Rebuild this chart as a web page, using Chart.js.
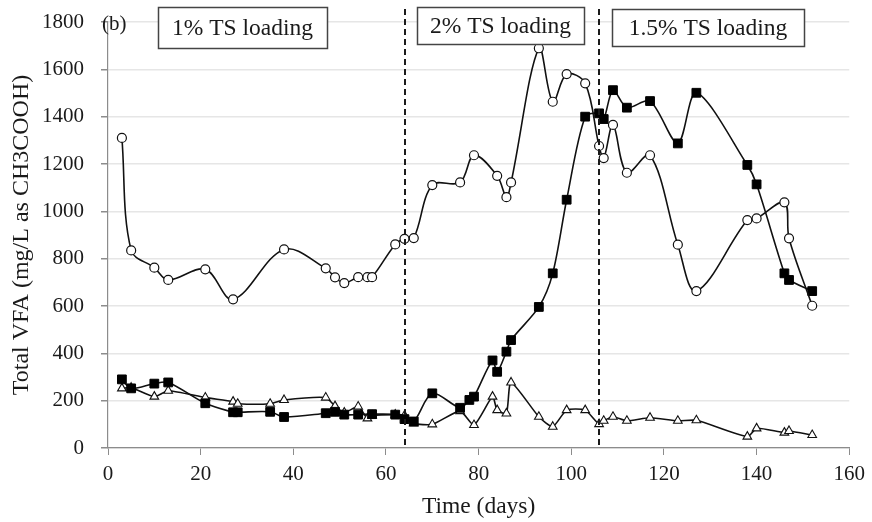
<!DOCTYPE html>
<html>
<head>
<meta charset="utf-8">
<script src="https://cdn.jsdelivr.net/npm/chart.js@4"></script>
<style>
  html, body { margin: 0; padding: 0; background: #fff; }
  #wrap { width: 872px; height: 522px; }
</style>
</head>
<body>
<div id="wrap"><canvas id="vfa"></canvas></div>
<script>
// data
const circleDays = [3,5,10,13,21,27,38,47,49,51,54,56,57,62,64,66,70,76,79,84,86,87,93,96,99,103,106,107,109,112,117,123,127,138,140,146,147,152];
const circleVfa = [1310,835,762,710,755,628,839,759,721,697,722,722,722,860,884,887,1111,1122,1237,1150,1060,1122,1689,1463,1580,1541,1276,1225,1365,1163,1237,859,663,963,970,1038,886,601];

const squareDays = [3,5,10,13,21,27,28,35,38,47,49,51,54,57,62,64,66,70,76,78,79,83,84,86,87,93,96,99,103,106,107,109,112,117,123,127,138,140,146,147,152];
const squareVfa = [290,252,272,277,189,151,151,153,131,147,153,141,141,143,141,122,112,231,170,203,217,370,322,407,456,596,738,1049,1400,1414,1390,1512,1438,1466,1287,1501,1196,1114,738,710,663];

const triangleDays = [3,5,10,13,21,27,28,35,38,47,49,51,54,56,57,62,64,66,70,76,79,83,84,86,87,93,96,99,103,106,107,109,112,117,123,127,138,140,146,147,152];
const triangleVfa = [252,255,217,242,213,196,187,187,203,213,177,150,175,125,137,141,137,104,100,156,97,217,160,146,277,132,90,160,160,101,115,132,115,128,115,117,48,83,65,72,55];

const yTicks = [0,200,400,600,800,1000,1200,1400,1600,1800];
const xTicks = [0,20,40,60,80,100,120,140,160];

// loading phase change days and the labels in the boxes
const phaseLines = [64, 106];
const phaseLabels = ["1% TS loading", "2% TS loading", "1.5% TS loading"];

const SERIF = "'Liberation Serif', 'Times New Roman', serif";

const toPoints = (days, vals) => days.map((d, i) => ({ x: d, y: vals[i] }));

// dashed phase lines + labelled boxes + panel tag
const phasePlugin = {
  id: "phases",
  afterDatasetsDraw(chart) {
    const { ctx, chartArea, scales } = chart;
    ctx.save();
    ctx.strokeStyle = "#1a1a1a";
    ctx.lineWidth = 2;
    ctx.setLineDash([6, 4]);
    phaseLines.forEach((d) => {
      const px = Math.round(scales.x.getPixelForValue(d));
      ctx.beginPath();
      ctx.moveTo(px, 9);
      ctx.lineTo(px, chartArea.bottom);
      ctx.stroke();
    });
    ctx.setLineDash([]);

    const boxes = [
      { x: 158, y: 7, w: 169, h: 41 },
      { x: 417, y: 7, w: 167, h: 37 },
      { x: 612, y: 9, w: 192, h: 37 },
    ];
    ctx.font = "23.5px " + SERIF;
    ctx.textAlign = "center";
    ctx.textBaseline = "middle";
    boxes.forEach((b, i) => {
      ctx.fillStyle = "#fff";
      ctx.fillRect(b.x, b.y, b.w, b.h);
      ctx.strokeStyle = "#444";
      ctx.lineWidth = 1.5;
      ctx.strokeRect(b.x + 0.5, b.y + 0.5, b.w, b.h);
      ctx.fillStyle = "#1a1a1a";
      ctx.fillText(phaseLabels[i], b.x + b.w / 2, b.y + b.h / 2 + 1);
    });

    ctx.font = "21px " + SERIF;
    ctx.textAlign = "left";
    ctx.fillText("(b)", 102, 24);
    ctx.restore();
  },
};

new Chart(document.getElementById("vfa"), {
  type: "line",
  data: {
    datasets: [
      {
        label: "Circles",
        data: toPoints(circleDays, circleVfa),
        borderColor: "#111",
        borderWidth: 1.6,
        tension: 0.35,
        pointStyle: "circle",
        pointRadius: 4.5,
        pointBackgroundColor: "#fff",
        pointBorderColor: "#111",
        pointBorderWidth: 1.2,
      },
      {
        label: "Squares",
        data: toPoints(squareDays, squareVfa),
        borderColor: "#111",
        borderWidth: 1.6,
        tension: 0.3,
        pointStyle: "rect",
        pointRadius: 6.2,
        pointBackgroundColor: "#000",
        pointBorderColor: "#000",
        pointBorderWidth: 1,
      },
      {
        label: "Triangles",
        data: toPoints(triangleDays, triangleVfa),
        borderColor: "#111",
        borderWidth: 1.6,
        tension: 0.2,
        pointStyle: "triangle",
        pointRadius: 5,
        pointBackgroundColor: "#fff",
        pointBorderColor: "#111",
        pointBorderWidth: 1.1,
      },
    ],
  },
  options: {
    responsive: true,
    maintainAspectRatio: false,
    animation: false,
    layout: { padding: { top: 22, right: 22, left: 0, bottom: 0 } },
    plugins: {
      legend: { display: false },
      tooltip: { enabled: false },
    },
    scales: {
      x: {
        type: "linear",
        min: 0,
        max: 160,
        afterFit: (s) => { s.height = 74; },
        afterBuildTicks: (s) => { s.ticks = xTicks.map((v) => ({ value: v })); },
        grid: { drawOnChartArea: false, drawTicks: true, tickLength: 7, tickColor: "#8c8c8c" },
        border: { color: "#8c8c8c", width: 1.2 },
        ticks: {
          color: "#1a1a1a",
          font: { family: SERIF, size: 21 },
          padding: 7,
          maxRotation: 0,
          callback: (v) => String(v),
        },
        title: {
          display: true,
          text: "Time (days)",
          color: "#1a1a1a",
          font: { family: SERIF, size: 23.5 },
          padding: { top: 0, bottom: 1 },
        },
      },
      y: {
        min: 0,
        max: 1800,
        afterFit: (s) => {
          s.width = 108;
          // keep the plot top at the same place despite the wide label gap
          s.paddingTop = 12;
          s.paddingBottom = 12;
        },
        afterBuildTicks: (s) => { s.ticks = yTicks.map((v) => ({ value: v })); },
        grid: { color: "#e6e6e6", lineWidth: 1.5, drawTicks: true, tickLength: 7, tickColor: "#8c8c8c" },
        border: { color: "#8c8c8c", width: 1.2 },
        ticks: {
          color: "#1a1a1a",
          font: { family: SERIF, size: 21 },
          padding: 17,
          callback: (v) => String(v),
        },
        title: {
          display: true,
          text: "Total VFA (mg/L as CH3COOH)",
          color: "#1a1a1a",
          font: { family: SERIF, size: 24 },
          padding: { top: 7, bottom: 0 },
        },
      },
    },
  },
  plugins: [phasePlugin],
});
</script>
</body>
</html>
